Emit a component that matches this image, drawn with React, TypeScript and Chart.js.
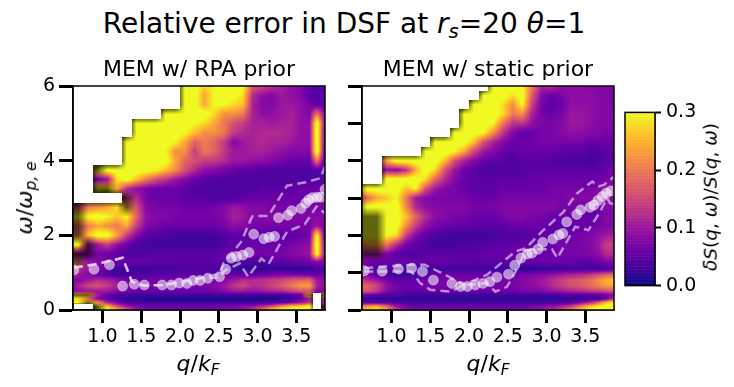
import React, { useEffect, useRef } from "react";
import { Chart, registerables } from "chart.js";

Chart.register(...registerables);

const FONT = "'DejaVu Sans', sans-serif";
const _ = null;

// Grid levels of the error maps
const qLevels = [0.563, 0.688, 0.813, 0.938, 1.063, 1.188, 1.313, 1.438, 1.563, 1.688, 1.813, 1.938, 2.063, 2.188, 2.313, 2.438, 2.563, 2.688, 2.813, 2.938, 3.063, 3.188, 3.313, 3.438, 3.563, 3.672, 3.767, 3.862, 3.935];
const omegaLevels = [6, 5.75, 5.5, 5.25, 5, 4.75, 4.5, 4.25, 4, 3.75, 3.5, 3.25, 3, 2.75, 2.5, 2.25, 2, 1.75, 1.5, 1.3, 1.1, 0.95, 0.8, 0.65, 0.5, 0.4, 0.3, 0.2, 0.1, 0];

// Relative error in hundredths, top row first. null = no data, negative = faded cell.
const rpaErrors = [
  [_,_,_,_,_,_,_,_,_,_,_,_,32,32,27,30,32,32,30,17,15,13,11,9,8,5,4,5,5],
  [_,_,_,_,_,_,_,_,_,_,_,_,32,32,24,30,32,32,28,12,9,8,10,9,8,5,4,5,5],
  [_,_,_,_,_,_,_,_,_,_,_,_,32,32,24,30,30,28,26,11,8,8,10,10,9,7,5,5,5],
  [_,_,_,_,_,_,_,_,_,_,32,32,32,32,32,28,22,22,20,11,9,9,10,11,9,8,20,9,8],
  [_,_,_,_,_,_,_,32,32,32,32,32,32,30,28,24,20,16,14,11,11,10,11,11,9,9,34,9,8],
  [_,_,_,_,_,_,_,32,32,32,32,32,30,26,22,22,20,14,12,11,12,12,12,11,9,9,34,8,8],
  [_,_,_,_,_,_,32,32,32,32,32,30,24,18,20,18,14,8,10,11,12,11,11,10,9,9,34,8,8],
  [_,_,_,_,_,_,32,32,32,32,30,22,22,14,20,18,14,10,10,11,11,10,9,8,8,8,34,7,7],
  [_,_,_,_,_,_,32,32,32,32,32,24,18,16,14,14,12,10,10,9,9,8,7,6,6,6,20,6,6],
  [_,_,_,-32,32,32,32,32,32,30,26,22,16,12,9,8,7,6,5,5,4,4,4,4,4,4,4,5,5],
  [_,_,_,5,9,28,32,26,20,16,13,10,8,6,5,4,4,4,4,4,4,4,4,4,4,4,4,4,4],
  [_,_,_,-30,-30,24,12,9,7,6,6,6,5,4,4,4,4,4,4,4,5,5,5,5,6,6,6,7,7],
  [_,_,_,_,_,_,-14,12,7,6,6,6,5,5,5,4,4,4,5,6,6,6,6,6,6,6,7,7,7],
  [-12,-16,20,22,24,28,-26,16,8,7,7,7,6,6,6,7,8,10,9,8,8,7,7,7,7,7,7,7,7],
  [-30,-32,30,32,30,26,30,18,9,8,8,7,7,7,7,7,8,11,10,8,8,8,8,8,8,8,8,8,8],
  [-14,-18,20,24,22,20,24,14,8,7,6,6,6,6,6,6,7,9,8,7,7,7,7,7,7,7,10,7,7],
  [-20,-22,26,32,32,24,14,8,5,4,4,3,3,3,3,3,4,5,5,5,5,5,5,5,6,6,32,6,6],
  [32,32,-10,10,14,9,6,4,3,3,3,3,3,3,3,3,4,5,5,6,6,6,6,7,8,9,34,8,7],
  [-8,-8,-8,7,6,5,4,4,4,5,5,5,5,5,5,5,6,7,7,7,7,7,7,8,9,10,32,10,9],
  [-32,-20,9,8,7,6,6,6,6,5,5,5,5,5,5,5,5,4,4,4,4,5,5,6,6,7,9,7,7],
  [14,12,10,8,5,3,3,3,3,3,3,3,4,4,4,4,4,3,2,2,2,2,2,2,2,2,4,3,3],
  [11,10,8,6,4,3,3,4,4,5,5,5,5,5,5,5,6,6,5,5,6,7,7,7,7,6,6,6,6],
  [8,8,10,12,11,9,7,6,6,7,7,7,7,7,7,7,8,10,12,12,13,14,15,17,18,18,10,9,8],
  [7,11,15,16,14,11,8,7,7,7,7,7,7,7,7,8,10,13,15,12,13,15,17,20,23,23,11,9,8],
  [7,9,10,10,10,8,7,6,6,6,6,6,6,6,6,7,8,10,10,9,10,11,12,14,16,16,8,7,7],
  [-32,-30,-28,10,6,4,3,3,3,3,3,3,3,3,3,3,3,3,3,3,3,3,3,4,5,-32,_,-32,5],
  [30,28,18,8,5,3,2,2,1,1,1,1,1,1,1,1,1,1,1,1,1,1,2,3,5,10,_,10,8],
  [30,30,-32,22,12,7,4,3,3,3,3,3,3,3,3,3,3,3,3,3,3,4,5,7,10,14,_,12,10],
  [_,_,_,-30,26,16,10,7,6,6,6,6,6,6,6,6,7,7,8,9,12,16,22,26,28,30,_,-14,12],
  [_,_,_,-30,32,26,18,11,8,7,7,7,7,7,7,7,8,8,10,14,20,28,32,32,32,32,_,-20,16],
];

const staticErrors = [
  [_,_,_,_,_,_,_,_,_,_,_,_,_,_,32,32,32,30,20,11,13,9,9,9,8,8,8,7,7],
  [_,_,_,_,_,_,_,_,_,_,_,_,_,32,32,32,28,32,17,8,6,7,9,9,9,8,8,7,7],
  [_,_,_,_,_,_,_,_,_,_,_,_,32,32,32,28,22,30,14,7,5,6,9,9,9,8,8,7,7],
  [_,_,_,_,_,_,_,_,_,_,_,32,32,32,32,28,20,22,11,7,6,7,10,10,9,8,8,8,8],
  [_,_,_,_,_,_,_,_,_,_,_,32,32,32,30,20,13,13,9,7,7,8,10,10,9,8,8,8,8],
  [_,_,_,_,_,_,_,_,_,_,32,32,32,30,22,13,8,5,6,7,7,8,9,9,8,8,7,7,7],
  [_,_,_,_,_,_,_,_,32,32,32,32,26,16,11,8,6,6,6,7,7,7,7,7,6,6,6,6,6],
  [_,_,_,_,_,_,_,32,32,32,30,24,15,10,8,6,5,6,6,6,6,5,5,5,4,4,5,5,5],
  [_,_,_,24,32,32,32,32,32,26,16,11,8,6,5,5,4,5,5,5,4,4,4,4,3,4,5,5,5],
  [_,_,_,9,8,12,24,32,28,16,10,6,5,4,4,4,4,4,5,5,5,5,5,5,5,5,6,7,7],
  [_,_,_,32,32,32,32,28,18,12,8,6,5,5,5,5,5,5,6,6,6,6,6,6,6,6,7,7,8],
  [-32,32,32,32,32,26,30,16,10,8,7,6,5,5,5,6,6,6,6,6,7,7,7,7,7,8,9,10,10],
  [-17,18,24,26,30,20,10,8,7,7,7,7,6,6,6,7,7,7,7,7,7,7,8,8,8,9,9,9,9],
  [-32,32,32,32,32,22,12,9,8,8,8,8,7,7,7,8,8,8,8,8,8,7,7,7,7,7,8,8,8],
  [-32,-32,-32,32,32,26,18,12,9,8,7,7,6,6,6,7,8,8,7,7,6,6,6,6,5,6,8,8,8],
  [-30,-32,-32,32,32,22,14,9,7,6,6,5,5,5,5,5,6,6,6,6,5,5,5,6,6,7,8,8,8],
  [-28,-30,-32,30,28,14,8,5,4,3,3,3,3,3,3,4,4,4,5,5,6,6,6,7,8,9,10,11,11],
  [-22,-24,-24,20,12,7,5,4,3,3,3,4,4,4,5,5,5,6,6,6,6,7,7,7,8,10,14,14,13],
  [-10,-10,-10,7,5,4,4,5,5,5,5,5,5,6,6,6,6,6,6,6,6,7,7,7,8,9,12,12,11],
  [7,7,6,6,6,6,6,6,6,6,5,5,5,5,5,5,5,5,6,6,6,6,6,5,5,6,8,8,8],
  [5,5,4,4,4,4,3,3,3,3,3,3,3,3,3,3,2,2,2,2,3,3,3,3,3,3,3,4,4],
  [9,8,5,4,3,3,4,5,6,6,6,6,6,6,6,6,6,7,7,8,9,10,11,12,13,15,17,18,18],
  [13,12,10,7,5,5,5,6,7,7,7,7,7,7,7,7,7,8,9,10,12,14,16,17,19,22,25,26,26],
  [19,18,15,9,7,6,6,7,7,7,7,7,7,7,7,7,7,8,9,10,12,14,16,17,19,21,23,24,24],
  [17,16,13,8,6,5,5,6,6,6,6,6,6,6,6,6,6,7,7,8,9,10,11,12,13,14,15,16,16],
  [6,6,5,4,4,3,3,3,3,3,3,3,3,3,3,3,3,3,3,3,3,4,4,4,4,5,6,8,8],
  [2,2,2,2,2,2,2,2,2,2,2,2,2,2,2,2,2,2,2,2,2,2,2,2,3,3,6,12,12],
  [6,5,5,5,4,4,3,3,3,3,3,3,3,3,3,3,3,3,3,3,4,4,5,8,12,18,26,30,30],
  [18,22,24,18,10,7,6,6,6,6,6,6,6,6,6,6,6,6,7,8,9,11,14,20,26,30,32,32,32],
  [24,28,30,24,14,9,7,7,7,7,7,7,7,7,7,7,7,8,9,10,12,15,20,28,32,32,32,32,32],
];

// Measured points and their error bounds
const rpaQ = [0.63, 0.89, 1.09, 1.26, 1.41, 1.54, 1.77, 1.89, 1.99, 2.09, 2.17, 2.26, 2.36, 2.51, 2.59, 2.66, 2.73, 2.81, 2.89, 2.95, 3.08, 3.15, 3.22, 3.27, 3.39, 3.44, 3.56, 3.62, 3.66, 3.71, 3.77, 3.82, 3.87];
const rpaOmega = [1.07, 1.09, 1.21, 0.64, 0.69, 0.67, 0.67, 0.67, 0.72, 0.71, 0.79, 0.79, 0.85, 0.89, 1.09, 1.39, 1.43, 1.47, 1.54, 2.03, 1.91, 1.95, 1.97, 2.47, 2.54, 2.66, 2.72, 2.86, 2.95, 3.01, 3.02, 3.02, 3.23];
const rpaUpperQ = [0.63, 0.89, 1.09, 1.26, 1.38, 1.54, 1.77, 1.99, 2.26, 2.51, 2.56, 2.79, 2.92, 2.94, 3.14, 3.38, 3.62, 3.81, 3.87];
const rpaUpperOmega = [1.13, 1.22, 1.31, 1.40, 0.76, 0.65, 0.67, 0.74, 0.85, 0.97, 1.25, 1.83, 2.46, 2.52, 2.52, 3.33, 3.42, 3.53, 3.84];
const rpaLowerQ = [0.63, 0.89, 1.09, 1.26, 1.38, 1.54, 1.77, 1.99, 2.26, 2.51, 2.56, 2.77, 2.88, 3.05, 3.14, 3.38, 3.61, 3.76, 3.87];
const rpaLowerOmega = [1.13, 1.22, 1.31, 1.40, 0.76, 0.65, 0.67, 0.74, 0.85, 0.87, 1.03, 1.25, 0.89, 1.38, 1.22, 2.1, 2.3, 2.77, 2.59];

const staticQ = [0.65, 0.88, 1.09, 1.26, 1.40, 1.54, 1.78, 1.89, 1.98, 2.08, 2.18, 2.27, 2.36, 2.51, 2.59, 2.67, 2.75, 2.81, 2.89, 2.95, 3.08, 3.16, 3.21, 3.26, 3.39, 3.44, 3.56, 3.61, 3.66, 3.72, 3.77, 3.83];
const staticOmega = [1.05, 1.04, 1.10, 1.12, 1.03, 0.80, 0.71, 0.63, 0.63, 0.67, 0.71, 0.76, 0.88, 0.96, 1.2, 1.39, 1.5, 1.52, 1.63, 1.81, 1.9, 2.01, 2.05, 2.36, 2.56, 2.68, 2.75, 2.81, 2.93, 3.04, 3.13, 3.19];
const staticUpperQ = [0.65, 0.88, 1.09, 1.26, 1.43, 1.78, 1.93, 2.23, 2.6, 2.73, 2.94, 3.22, 3.39, 3.59, 3.67, 3.74, 3.87];
const staticUpperOmega = [1.12, 1.16, 1.19, 1.21, 1.21, 0.85, 0.67, 0.94, 1.57, 1.65, 2.1, 2.63, 3.12, 3.44, 3.31, 3.35, 3.57];
const staticLowerQ = [0.65, 0.88, 1.09, 1.26, 1.37, 1.5, 1.76, 1.93, 2.23, 2.34, 2.49, 2.6, 2.73, 2.9, 3.07, 3.14, 3.37, 3.54, 3.69, 3.78, 3.82, 3.87];
const staticLowerOmega = [1.03, 1.03, 1.03, 1.03, 0.72, 0.54, 0.49, 0.67, 0.72, 0.49, 0.62, 1.03, 1.6, 1.63, 1.63, 1.39, 2.23, 2.14, 2.63, 3.0, 2.86, 2.83];

// Axes
const qMin = 0.62;
const qMax = 3.87;
const qTicks = [1, 1.5, 2, 2.5, 3, 3.5];
const omegaMax = 6;
const errorMax = 0.3;
const errorTicks = [0, 0.1, 0.2, 0.3];
const plasmaStops = [[13,8,135],[65,4,157],[106,0,168],[143,13,164],[177,42,144],[204,71,120],[225,100,98],[241,132,75],[252,166,54],[252,206,37],[240,249,33]];

function plasma(t: number) {
  const c = Math.max(0, Math.min(1, t)) * (plasmaStops.length - 1);
  const i = Math.min(plasmaStops.length - 2, Math.floor(c));
  const f = c - i;
  return plasmaStops[i].map((v, k) => v + (plasmaStops[i + 1][k] - v) * f);
}

function heatmapPlugin(rows: (number | null)[][]) {
  return {
    id: "heatmap",
    beforeDatasetsDraw(chart: any) {
      const { ctx, chartArea: a, scales } = chart;
      const w = Math.round(a.right - a.left);
      const h = Math.round(a.bottom - a.top);
      const off = document.createElement("canvas");
      off.width = w; off.height = h;
      const oc = off.getContext("2d")!;
      const img = oc.createImageData(w, h);
      for (let py = 0; py < h; py++) {
        const om = scales.y.getValueForPixel(a.top + py + 0.5);
        let r = 0;
        while (r < omegaLevels.length - 2 && omegaLevels[r + 1] > om) r++;
        const fy = Math.max(0, Math.min(1, (omegaLevels[r] - om) / (omegaLevels[r] - omegaLevels[r + 1])));
        for (let px = 0; px < w; px++) {
          const q = scales.x.getValueForPixel(a.left + px + 0.5);
          let c = 0;
          while (c < qLevels.length - 2 && qLevels[c + 1] < q) c++;
          const fx = Math.max(0, Math.min(1, (q - qLevels[c]) / (qLevels[c + 1] - qLevels[c])));
          const near = rows[fy < 0.5 ? r : r + 1]?.[fx < 0.5 ? c : c + 1];
          if (near === null || near === undefined) continue;
          const corners: [number, number, number][] = [[r, c, (1 - fy) * (1 - fx)], [r, c + 1, (1 - fy) * fx], [r + 1, c, fy * (1 - fx)], [r + 1, c + 1, fy * fx]];
          let sum = 0, wt = 0, dim = 0;
          for (const [rr, cc, cw] of corners) {
            const v = rows[rr]?.[cc];
            if (v === null || v === undefined) { dim += cw * 1.1; continue; }
            if (v < 0) dim += cw * 0.6;
            sum += Math.abs(v) * cw;
            wt += cw;
          }
          const col = plasma((sum / Math.max(wt, 1e-6)) / (errorMax * 100));
          const f = Math.max(0.2, 1 - dim);
          const k = (py * w + px) * 4;
          img.data[k] = col[0] * f;
          img.data[k + 1] = col[1] * f;
          img.data[k + 2] = col[2] * f;
          img.data[k + 3] = 255;
        }
      }
      oc.putImageData(img, 0, 0);
      ctx.drawImage(off, a.left, a.top, a.right - a.left, a.bottom - a.top);
    },
    afterDraw(chart: any) {
      const { ctx, chartArea: a } = chart;
      ctx.save();
      ctx.strokeStyle = "#000";
      ctx.lineWidth = 1.5;
      ctx.strokeRect(a.left, a.top, a.right - a.left, a.bottom - a.top);
      ctx.restore();
    },
  };
}

const colorbarPlugin = {
  id: "colorbar",
  beforeDatasetsDraw(chart: any) {
    const { ctx, chartArea: a, scales } = chart;
    const n = 120;
    for (let i = 0; i < n; i++) {
      const v0 = (errorMax * i) / n;
      const v1 = (errorMax * (i + 1)) / n;
      const c = plasma((i + 0.5) / n);
      ctx.fillStyle = `rgb(${c[0]},${c[1]},${c[2]})`;
      const y0 = scales.y.getPixelForValue(v0);
      const y1 = scales.y.getPixelForValue(v1);
      ctx.fillRect(a.left, y1 - 0.5, a.right - a.left, y0 - y1 + 0.5);
    }
  },
  afterDraw(chart: any) {
    const { ctx, chartArea: a } = chart;
    ctx.save();
    ctx.strokeStyle = "#000";
    ctx.lineWidth = 1.5;
    ctx.strokeRect(a.left, a.top, a.right - a.left, a.bottom - a.top);
    ctx.restore();
  },
};

const pairs = (xs: number[], ys: number[]) => xs.map((x, i) => ({ x, y: ys[i] }));

function panelConfig(opts: any) {
  const lineStyle = { showLine: true, pointRadius: 0, borderColor: "rgba(240,225,250,0.62)", borderWidth: 2.5, borderDash: [9, 5], fill: false, tension: 0 };
  return {
    type: "scatter",
    plugins: [heatmapPlugin(opts.rows)],
    data: {
      datasets: [
        { data: pairs(opts.upperQ, opts.upperOmega), ...lineStyle },
        { data: pairs(opts.lowerQ, opts.lowerOmega), ...lineStyle },
        { data: pairs(opts.q, opts.omega), pointRadius: 5, pointBackgroundColor: "rgba(255,255,255,0.55)", pointBorderColor: "rgba(255,255,255,0.35)", pointBorderWidth: 1 },
      ],
    },
    options: {
      animation: false,
      responsive: false,
      layout: { padding: { left: 0, right: opts.right, top: 0, bottom: 0 } },
      plugins: {
        legend: { display: false },
        tooltip: { enabled: false },
        title: { display: true, text: opts.title, fullSize: false, color: "#000", font: { family: FONT, size: 22, weight: "normal" }, padding: { top: 6.8, bottom: 2.8 } },
      },
      scales: {
        x: {
          type: "linear", min: qMin, max: qMax,
          afterBuildTicks: (s: any) => { s.ticks = qTicks.map((value) => ({ value })); },
          afterFit: (s: any) => { s.height = 77; },
          ticks: { color: "#000", font: { family: FONT, size: 19 }, padding: 3, maxRotation: 0, autoSkip: false, callback: (v: any) => Number(v).toFixed(1) },
          grid: { drawOnChartArea: false, tickLength: 13, tickWidth: 3, tickColor: "#000" },
          border: { display: true, color: "#000", width: 1.5 },
        },
        y: {
          type: "linear", min: 0, max: omegaMax,
          afterBuildTicks: (s: any) => { s.ticks = opts.yTicks.map((value: number) => ({ value })); },
          afterFit: (s: any) => { s.width = opts.left; },
          ticks: { color: "#000", font: { family: FONT, size: 19 }, padding: 4, autoSkip: false, callback: (v: any) => (opts.yLabels ? String(v) : "") },
          grid: { drawOnChartArea: false, tickLength: 14, tickWidth: 3, tickColor: "#000" },
          border: { display: true, color: "#000", width: 1.5 },
        },
      },
    },
  };
}

const colorbarConfig: any = {
  type: "scatter",
  plugins: [colorbarPlugin],
  data: { datasets: [{ data: errorTicks.map((y) => ({ x: 0, y })), pointRadius: 0 }] },
  options: {
    animation: false,
    responsive: false,
    layout: { padding: { left: 15, right: 0, top: 14.7, bottom: 15 } },
    plugins: { legend: { display: false }, tooltip: { enabled: false } },
    scales: {
      x: { display: false, min: 0, max: 1 },
      y: {
        type: "linear", position: "right", min: 0, max: errorMax,
        afterBuildTicks: (s: any) => { s.ticks = errorTicks.map((value) => ({ value })); },
        afterFit: (s: any) => { s.width = 79; },
        ticks: { color: "#000", font: { family: FONT, size: 19 }, padding: 5, autoSkip: false, callback: (v: any) => Number(v).toFixed(1) },
        grid: { drawOnChartArea: false, tickLength: 6, tickWidth: 2, tickColor: "#000" },
        border: { display: true, color: "#000", width: 1.5 },
      },
    },
  },
};

const abs = (o: React.CSSProperties): React.CSSProperties => ({ position: "absolute", fontFamily: FONT, color: "#000", whiteSpace: "nowrap", lineHeight: 1, ...o });
const sub: React.CSSProperties = { fontSize: "70%", position: "relative", top: "0.25em" };

export default function App() {
  const a = useRef<HTMLCanvasElement>(null);
  const b = useRef<HTMLCanvasElement>(null);
  const c = useRef<HTMLCanvasElement>(null);
  useEffect(() => {
    document.body.style.margin = "0";
    const charts = [
      new Chart(a.current!, panelConfig({ rows: rpaErrors, q: rpaQ, omega: rpaOmega, upperQ: rpaUpperQ, upperOmega: rpaUpperOmega, lowerQ: rpaLowerQ, lowerOmega: rpaLowerOmega, title: "MEM w/ RPA prior", yTicks: [0, 2, 4, 6], yLabels: true, left: 73, right: 10 }) as any),
      new Chart(b.current!, panelConfig({ rows: staticErrors, q: staticQ, omega: staticOmega, upperQ: staticUpperQ, upperOmega: staticUpperOmega, lowerQ: staticLowerQ, lowerOmega: staticLowerOmega, title: "MEM w/ static prior", yTicks: [0, 1, 2, 3, 4, 5, 6], yLabels: false, left: 22, right: 10 }) as any),
      new Chart(c.current!, colorbarConfig),
    ];
    return () => charts.forEach((ch) => ch.destroy());
  }, []);
  return (
    <div style={{ position: "relative", width: 734, height: 387, overflow: "hidden", background: "#fff" }}>
      <div style={abs({ left: 0, width: 688, textAlign: "center", top: 10, fontSize: 28 })}>
        Relative error in DSF at <i>r</i><i style={sub}>s</i>=20 <i>θ</i>=1
      </div>
      <canvas ref={a} width={335} height={337} style={{ position: "absolute", left: 0, top: 50 }} />
      <canvas ref={b} width={284} height={337} style={{ position: "absolute", left: 340, top: 50 }} />
      <canvas ref={c} width={124} height={206} style={{ position: "absolute", left: 610, top: 96 }} />
      <div style={abs({ left: 0, width: 396, textAlign: "center", top: 353, fontSize: 22 })}><i>q</i>/<i>k</i><i style={sub}>F</i></div>
      <div style={abs({ left: 290, width: 396, textAlign: "center", top: 353, fontSize: 22 })}><i>q</i>/<i>k</i><i style={sub}>F</i></div>
      <div style={abs({ left: 25, top: 198, fontSize: 22, transform: "translate(-50%,-50%) rotate(-90deg)" })}><i>ω</i>/<i>ω</i><i style={sub}>p, e</i></div>
      <div style={abs({ left: 711, top: 197, fontSize: 18.5, transform: "translate(-50%,-50%) rotate(-90deg)" })}><i>δS</i>(<i>q</i>, <i>ω</i>)/<i>S</i>(<i>q</i>, <i>ω</i>)</div>
    </div>
  );
}
